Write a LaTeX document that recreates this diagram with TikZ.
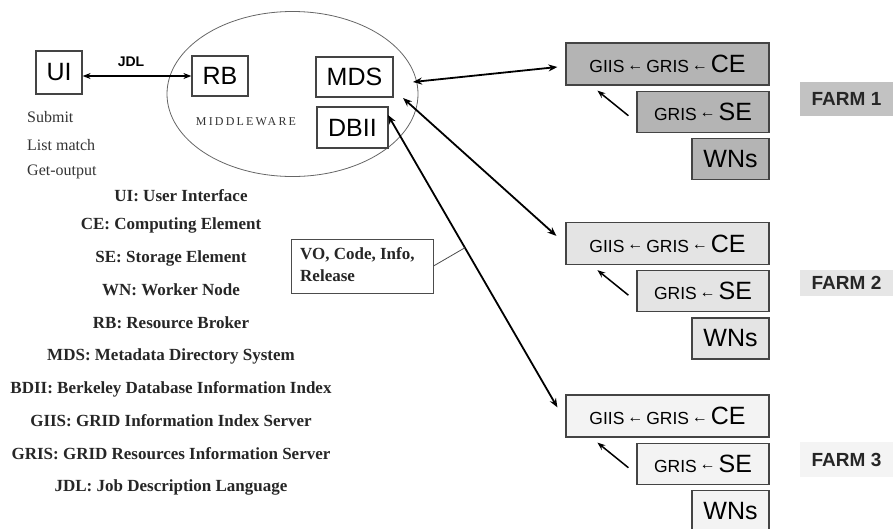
\documentclass[tikz,border=0pt]{standalone}
\usepackage{fontspec}
\setmainfont{Liberation Serif}
\newfontfamily\arialf{Liberation Sans}
\newcommand\smtxt{\arialf\fontsize{17.5}{19}\selectfont}
\newcommand\larr{\,\raisebox{2.5pt}{\fontsize{16}{18}\selectfont ←}\,}
\usetikzlibrary{arrows.meta,calc,shapes.geometric}
\definecolor{fone}{HTML}{B4B4B4}
\definecolor{fonel}{HTML}{C2C2C2}
\definecolor{ftwo}{HTML}{E4E4E4}
\definecolor{ftwol}{HTML}{E6E6E6}
\definecolor{fthree}{HTML}{F3F3F3}
\definecolor{fthreel}{HTML}{F4F4F4}
\definecolor{edge}{HTML}{444444}
\begin{document}
\begin{tikzpicture}[x=1pt,y=-1pt,
  box/.style={draw=edge, line width=1.2pt, inner sep=0pt, font=\arialf\fontsize{25}{30}\selectfont},
  cebox/.style={box, minimum width=203pt, minimum height=42pt},
  sebox/.style={box, minimum width=132pt, minimum height=41pt},
  wnbox/.style={box, minimum width=77pt, minimum height=41pt},
  farmlbl/.style={inner sep=0pt, minimum width=93pt, font=\arialf\bfseries\fontsize{19}{22}\selectfont, text=black!85},
  legend/.style={inner sep=0pt, font=\bfseries\fontsize{17}{20}\selectfont, text=black!85},
  cmd/.style={inner sep=0pt, anchor=west, font=\fontsize{16}{18}\selectfont, text=black!80},
  big/.style={line width=1.8pt, {Stealth[length=9pt,width=7pt]}-{Stealth[length=9pt,width=7pt]}},
  small/.style={line width=1.5pt, -{Stealth[length=8pt,width=6pt]}},
]
\useasboundingbox (0,0) rectangle (893,528);

% middleware ellipse
\node[ellipse, draw=black!60, line width=0.8pt, minimum width=251pt, minimum height=165pt, inner sep=0pt] (mw) at (292.5,94) {};

% UI, RB, MDS, DBII
\node[box, minimum width=46pt, minimum height=43pt] (ui) at (59,72.5) {UI};
\node[box, minimum width=56pt, minimum height=40pt] (rb) at (220,76) {RB};
\node[box, minimum width=77pt, minimum height=40pt] (mds) at (354.5,77) {MDS};
\node[box, minimum width=71pt, minimum height=41pt] (dbii) at (352.5,127.5) {DBII};
\node[inner sep=0pt, font=\addfontfeature{LetterSpace=18}\fontsize{12}{14}\selectfont, text=black!80] (mwl) at (246,122) {MIDDLEWARE};

\draw[line width=1.8pt, {Stealth[length=8pt,width=6pt]}-{Stealth[length=8pt,width=6pt]}] (ui.east |- rb.west) -- (rb.west);
\node[inner sep=0pt, font=\arialf\bfseries\fontsize{14}{16}\selectfont] (jdl) at (131,62) {JDL};

% UI commands
\node[cmd] (c1) at (27,117) {Submit};
\node[cmd] (c2) at (27,145) {List match};
\node[cmd] (c3) at (27,172) {Get-output};

% legend
\node[legend] (l1) at (181,196) {UI: User Interface};
\node[legend] (l2) at (171,225) {CE: Computing Element};
\node[legend] (l3) at (171,258) {SE: Storage Element};
\node[legend] (l4) at (171,290) {WN: Worker Node};
\node[legend] (l5) at (171,323) {RB: Resource Broker};
\node[legend] (l6) at (171,356) {MDS: Metadata Directory System};
\node[legend] (l7) at (171,389) {BDII: Berkeley Database Information Index};
\node[legend] (l8) at (171,421) {GIIS: GRID Information Index Server};
\node[legend] (l9) at (171,454) {GRIS: GRID Resources Information Server};
\node[legend] (l10) at (171,487) {JDL: Job Description Language};

% farms
\foreach \n/\cy/\fc in {1/64/fone, 2/243.5/ftwo, 3/416/fthree}{
  \node[cebox, fill=\fc] (ce\n) at (667.5,\cy) {{\smtxt GIIS\larr GRIS\larr}CE};
  \node[sebox, fill=\fc, anchor=north east] (se\n) at ($(ce\n.south east)+(0,5)$) {{\smtxt GRIS\larr}SE};
  \node[wnbox, fill=\fc, anchor=north east] (wn\n) at ($(se\n.south east)+(0,5)$) {WNs};
  \coordinate (s\n) at ($(se\n.west)+(-8,4)$);
  \coordinate (t\n) at ($(ce\n.south west)+(32,5)$);
  \draw[small] (s\n) -- (t\n);
}
\node[farmlbl, fill=fonel, minimum height=34pt] (fl1) at (846.5,99) {FARM 1};
\node[farmlbl, fill=ftwol, minimum height=26pt] (fl2) at (846.5,283) {FARM 2};
\node[farmlbl, fill=fthreel, minimum height=35pt] (fl3) at (846.5,459.5) {FARM 3};

% big connectors
\coordinate (m1) at (413,82);
\coordinate (m2) at (403,98);
\coordinate (d1) at (388,115);
\coordinate (e1) at ($(ce1.west)+(-8,3)$);
\coordinate (e2) at ($(ce2.north west)+(-9,14)$);
\coordinate (e3) at ($(ce3.north west)+(-8,13)$);
\draw[big] (m1) -- (e1);
\draw[big] (m2) -- (e2);
\draw[big] (d1) -- (e3);
\path (d1) -- (e3) coordinate[pos=0.454] (vj);

% VO box
\node[draw=black!70, line width=1pt, minimum width=142pt, minimum height=54pt, inner sep=0pt] (vo) at (362,266) {};
\node[inner sep=0pt, anchor=west, align=left, font=\bfseries\fontsize{17}{22}\selectfont, text=black!85] (vot) at (300,265) {VO, Code, Info,\\Release};
\draw[black!70, line width=0.8pt] (vo.east) -- (vj);
\end{tikzpicture}
\end{document}
